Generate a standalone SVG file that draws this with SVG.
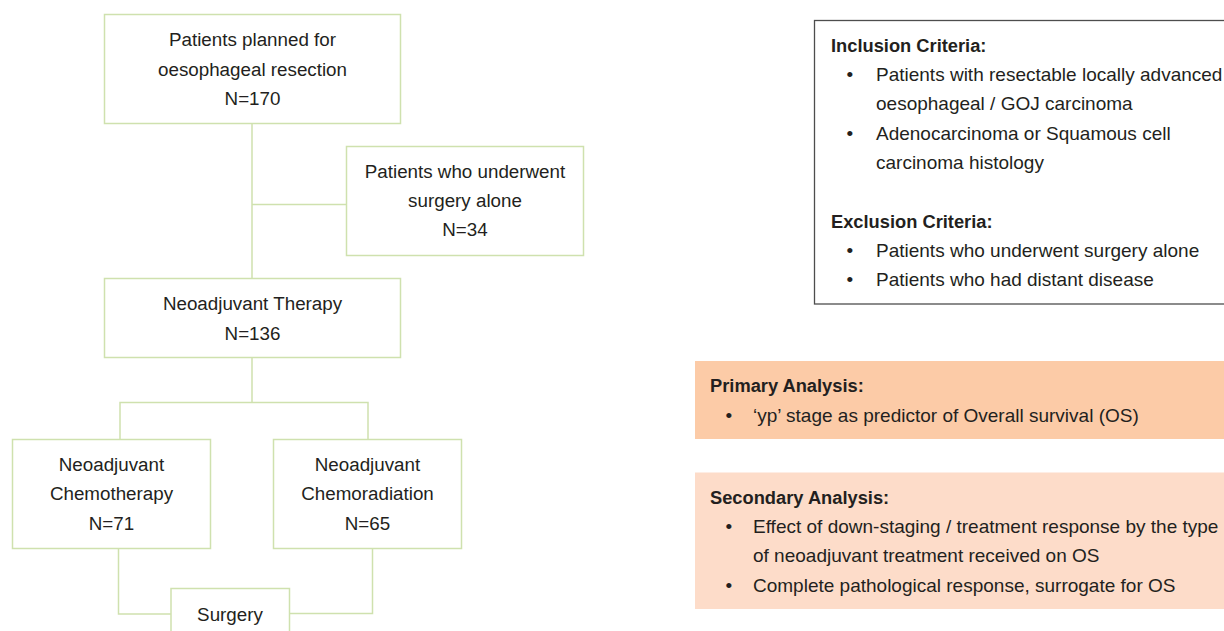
<svg xmlns="http://www.w3.org/2000/svg" width="1224" height="631" viewBox="0 0 1224 631">
<style>
  .box { fill: #ffffff; stroke: #cfe1ae; stroke-width: 1.5; }
  .conn { fill: none; stroke: #cfe1ae; stroke-width: 1.5; }
  text { font-family: "Liberation Sans", Arial, sans-serif; font-size: 18.8px; fill: #231f20; }
  .c { text-anchor: middle; }
  .b { font-weight: bold; font-size: 18.3px; }
  .r { font-size: 19px; }
</style>
<rect width="1224" height="631" fill="#ffffff"/>

<g id="connectors">
  <polyline class="conn" points="252,123.5 252,278.5"/>
  <polyline class="conn" points="252,204.5 346.5,204.5"/>
  <polyline class="conn" points="252,357.5 252,402.5"/>
  <polyline class="conn" points="120,439.5 120,402.5 368,402.5 368,439.5"/>
  <polyline class="conn" points="118.5,548.5 118.5,614 171,614"/>
  <polyline class="conn" points="372.5,548.5 372.5,613.5 289.5,613.5"/>
</g>

<g id="node-planned">
  <rect class="box" x="104.5" y="14.5" width="296" height="109"/>
  <text class="c" x="252.5" y="46">Patients planned for</text>
  <text class="c" x="252.5" y="76">oesophageal resection</text>
  <text class="c" x="252.5" y="105">N=170</text>
</g>

<g id="node-surgery-alone">
  <rect class="box" x="346.5" y="146.5" width="237" height="109"/>
  <text class="c" x="465" y="178">Patients who underwent</text>
  <text class="c" x="465" y="207">surgery alone</text>
  <text class="c" x="465" y="236">N=34</text>
</g>

<g id="node-neoadjuvant">
  <rect class="box" x="104.5" y="278.5" width="296" height="79"/>
  <text class="c" x="252.5" y="310">Neoadjuvant Therapy</text>
  <text class="c" x="252.5" y="340">N=136</text>
</g>

<g id="node-chemo">
  <rect class="box" x="12.5" y="439.5" width="198" height="109"/>
  <text class="c" x="111.5" y="471">Neoadjuvant</text>
  <text class="c" x="111.5" y="500">Chemotherapy</text>
  <text class="c" x="111.5" y="529.5">N=71</text>
</g>

<g id="node-chemorad">
  <rect class="box" x="273.5" y="439.5" width="188" height="109"/>
  <text class="c" x="367.5" y="471">Neoadjuvant</text>
  <text class="c" x="367.5" y="500">Chemoradiation</text>
  <text class="c" x="367.5" y="529.5">N=65</text>
</g>

<g id="node-surgery">
  <rect class="box" x="171" y="588.5" width="118.5" height="60"/>
  <text class="c" x="230" y="621">Surgery</text>
</g>

<g id="criteria">
  <rect x="814.5" y="20.5" width="420" height="283.5" fill="#ffffff" stroke="#4d4d4d" stroke-width="1.3"/>
  <text class="b" x="831" y="52">Inclusion Criteria:</text>
  <text class="r" x="846.5" y="81">•</text>
  <text class="r" x="876" y="81">Patients with resectable locally advanced</text>
  <text class="r" x="876" y="110">oesophageal / GOJ carcinoma</text>
  <text class="r" x="846.5" y="139.5">•</text>
  <text class="r" x="876" y="139.5">Adenocarcinoma or Squamous cell</text>
  <text class="r" x="876" y="168.5">carcinoma histology</text>
  <text class="b" x="831" y="228">Exclusion Criteria:</text>
  <text class="r" x="846.5" y="257">•</text>
  <text class="r" x="876" y="257">Patients who underwent surgery alone</text>
  <text class="r" x="846.5" y="286">•</text>
  <text class="r" x="876" y="286">Patients who had distant disease</text>
</g>

<g id="primary">
  <rect x="695" y="361" width="529" height="78" fill="#fccba7"/>
  <text class="b" x="710" y="392">Primary Analysis:</text>
  <text class="r" x="725.5" y="422">•</text>
  <text class="r" x="753" y="422">‘yp’ stage as predictor of Overall survival (OS)</text>
</g>

<g id="secondary">
  <rect x="695" y="472.5" width="529" height="136.5" fill="#fddcc9"/>
  <text class="b" x="710" y="503.5">Secondary Analysis:</text>
  <text class="r" x="725.5" y="533">•</text>
  <text class="r" x="753" y="533">Effect of down-staging / treatment response by the type</text>
  <text class="r" x="753" y="562">of neoadjuvant treatment received on OS</text>
  <text class="r" x="725.5" y="592">•</text>
  <text class="r" x="753" y="592">Complete pathological response, surrogate for OS</text>
</g>
</svg>
